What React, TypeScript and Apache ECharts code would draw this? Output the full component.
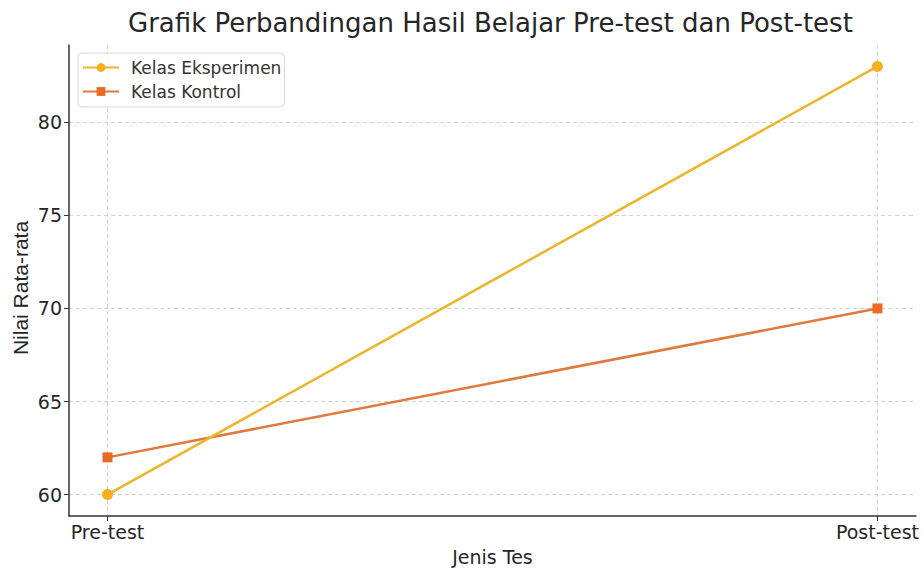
import React, { useEffect, useRef } from "react";
import * as echarts from "echarts";

const categories = ["Pre-test", "Post-test"];
const eksperimen = [60, 83];
const kontrol = [62, 70];
const yTicks = [60, 65, 70, 75, 80];
const xTicks = [0, 1];

const FONT = "DejaVu Sans";

export default function App() {
  const ref = useRef<HTMLDivElement>(null);
  useEffect(() => {
    if (!ref.current) return;
    const chart = echarts.init(ref.current, undefined, { renderer: "svg" });
    const gridLine = { show: true, lineStyle: { color: "#d3d3d3", type: [4, 3], width: 1 } };
    chart.setOption({
      animation: false,
      backgroundColor: "#ffffff",
      title: {
        text: "Grafik Perbandingan Hasil Belajar Pre-test dan Post-test",
        left: 123,
        top: 5,
        textStyle: { fontFamily: FONT, fontSize: 26, fontWeight: "normal", color: "#262626" },
      },
      graphic: [
        {
          type: "text",
          x: 20,
          y: 288,
          rotation: Math.PI / 2,
          style: {
            text: "Nilai Rata-rata",
            fontFamily: "Liberation Sans",
            fontSize: 21,
            fill: "#262626",
            align: "center",
            verticalAlign: "middle",
          },
        },
      ],
      legend: {
        orient: "vertical",
        left: 78,
        top: 53,
        padding: [5, 3, 6, 4],
        itemGap: 5,
        itemWidth: 36,
        itemHeight: 11,
        borderColor: "#d6d6d6",
        borderWidth: 1,
        borderRadius: 4,
        backgroundColor: "rgba(255,255,255,0.85)",
        textStyle: { fontFamily: FONT, fontSize: 17, lineHeight: 19, color: "#333", padding: [0, 0, 0, 7] },
        data: ["Kelas Eksperimen", "Kelas Kontrol"],
      },
      grid: { left: 69, right: 5, top: 45, bottom: 51, containLabel: false },
      xAxis: {
        type: "value",
        min: -0.05,
        max: 1.05,
        name: "Jenis Tes",
        nameLocation: "middle",
        nameGap: 31,
        nameTextStyle: { fontFamily: FONT, fontSize: 19, color: "#262626" },
        axisLine: { show: true, onZero: false, lineStyle: { color: "#333", width: 1.5 } },
        axisTick: { show: true, length: 5, customValues: xTicks, lineStyle: { color: "#333" } },
        axisLabel: {
          customValues: xTicks,
          formatter: (v: number) => categories[Math.round(v)] ?? "",
          fontFamily: FONT,
          fontSize: 19,
          color: "#262626",
          margin: 6,
        },
        splitLine: gridLine,
      },
      yAxis: {
        type: "value",
        min: 58.85,
        max: 84.15,
        axisLine: { show: true, onZero: false, lineStyle: { color: "#333", width: 1.5 } },
        axisTick: { show: true, length: 5, customValues: yTicks, lineStyle: { color: "#333" } },
        axisLabel: {
          customValues: yTicks,
          fontFamily: FONT,
          fontSize: 19,
          color: "#262626",
          margin: 7,
        },
        splitLine: gridLine,
      },
      series: [
        {
          name: "Kelas Eksperimen",
          type: "line",
          data: eksperimen.map((v, i) => [i, v]),
          symbol: "circle",
          symbolSize: 11,
          lineStyle: { color: "#ebb52c", width: 2.5 },
          itemStyle: { color: "#f5b01c" },
          z: 3,
        },
        {
          name: "Kelas Kontrol",
          type: "line",
          data: kontrol.map((v, i) => [i, v]),
          symbol: "rect",
          symbolSize: 10,
          lineStyle: { color: "#e07a3a", width: 2.5 },
          itemStyle: { color: "#ea6a25" },
          z: 2,
        },
      ],
    });
    return () => chart.dispose();
  }, []);
  return (
    <div
      ref={ref}
      style={{ position: "absolute", left: 0, top: 0, width: 922, height: 571 }}
    />
  );
}
